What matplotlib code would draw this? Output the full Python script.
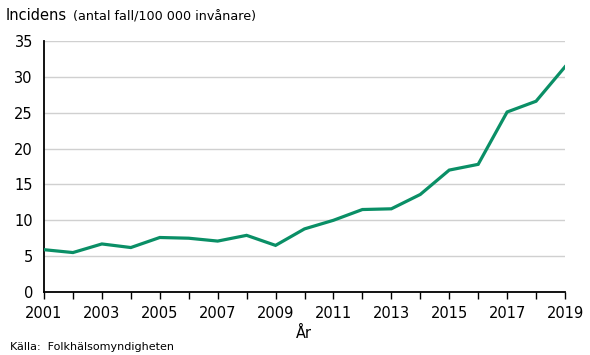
import numpy as np
import matplotlib
matplotlib.use('Agg')
import matplotlib.pyplot as plt

years = list(range(2001, 2020))
incidence = [5.9, 5.5, 6.7, 6.2, 7.6, 7.5, 7.1, 7.9, 6.5, 8.8,
             10.0, 11.5, 11.6, 13.6, 17.0, 17.8, 25.1, 26.6, 31.4]
yticks = [0, 5, 10, 15, 20, 25, 30, 35]
xlabels = list(range(2001, 2020, 2))

plt.rcParams['font.family'] = ['DejaVu Sans']

fig = plt.figure(figsize=(5.9, 3.55), dpi=100)
ax = fig.add_axes([44/590, 1-292/355, (565-44)/590, (292-41)/355])

ax.plot(years, incidence, color='#0a8f66', linewidth=2.3, solid_joinstyle='miter', zorder=3)

ax.set_xlim(2001, 2019)
ax.set_ylim(0, 35)
ax.set_yticks(yticks)
ax.set_xticks(xlabels)
ax.set_xticks(years, minor=True)
ax.grid(axis='y', color='#d0d0d0', linewidth=1)
ax.set_axisbelow(True)

for s in ['top', 'right']:
    ax.spines[s].set_visible(False)
ax.spines['left'].set_linewidth(1.3)
ax.spines['bottom'].set_linewidth(1.3)

ax.tick_params(axis='y', length=0, labelsize=10.5, pad=8)
ax.tick_params(axis='x', which='both', direction='out', length=5, width=1, labelsize=10.5, pad=5)

fig.text(6/590, 1-16/355, 'Incidens', fontsize=10.5, va='center', ha='left')
fig.text(73/590, 1-17/355, '(antal fall/100 000 invånare)', fontsize=9.2, va='center', ha='left')
fig.text(296/590, 1-333/355, 'År', fontsize=10.5, va='center', ha='left')
fig.text(10/590, 1-347/355, 'Källa:  Folkhälsomyndigheten', fontsize=8, va='center', ha='left')

fig.savefig('out.png', dpi=100)
